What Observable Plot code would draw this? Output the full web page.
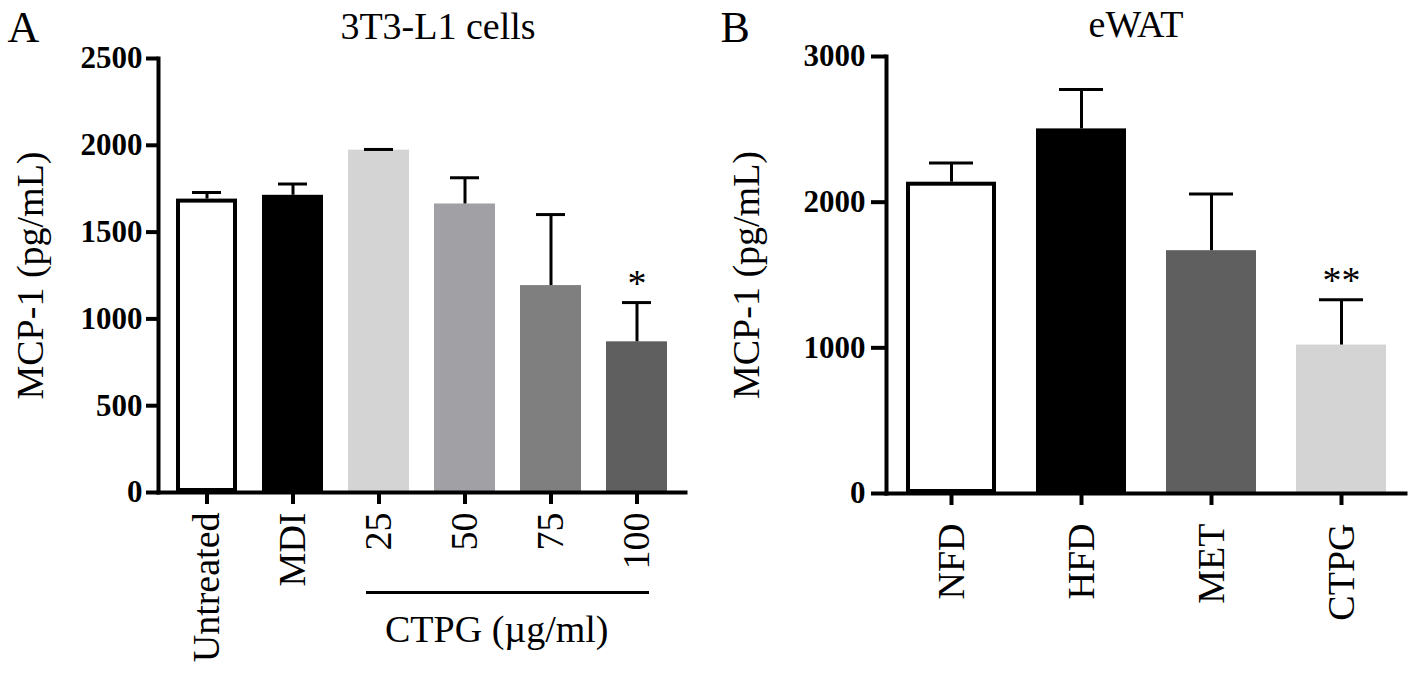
<!DOCTYPE html>
<html><head><meta charset="utf-8">
<script src="https://cdn.jsdelivr.net/npm/d3@7"></script>
<script src="https://cdn.jsdelivr.net/npm/@observablehq/plot@0.6"></script>
<style>
html,body{margin:0;padding:0;background:#fff;}
#wrap{position:relative;width:1415px;height:678px;overflow:hidden;background:#fff;}
#a{position:absolute;left:0;top:0;}
#b{position:absolute;left:700px;top:0;}
</style></head><body>
<div id="wrap"><div id="a"></div><div id="b"></div></div>
<script>
// ---- Panel A data: 3T3-L1 cells ----
const groupsA = ["Untreated", "MDI", "25", "50", "75", "100"];
const meansA  = [1690, 1712, 1972, 1662, 1192, 868];
const errsA   = [38, 65, 4, 151, 409, 226];
const starsA  = ["", "", "", "", "", "*"];
const fillsA  = ["#ffffff", "#000000", "#d4d4d4", "#a0a0a5", "#7f7f7f", "#5f5f5f"];
const outlinedA = ["Untreated"];
const yTicksA = [0, 500, 1000, 1500, 2000, 2500];
const bracketA = [{label: "CTPG (µg/ml)", from: "25", to: "100"}];

// ---- Panel B data: eWAT ----
const groupsB = ["NFD", "HFD", "MET", "CTPG"];
const meansB  = [2137, 2503, 1667, 1019];
const errsB   = [132, 270, 389, 311];
const starsB  = ["", "", "", "**"];
const fillsB  = ["#ffffff", "#000000", "#5f5f5f", "#d4d4d4"];
const outlinedB = ["NFD"];
const yTicksB = [0, 1000, 2000, 3000];

const yLabel = "MCP-1 (pg/mL)";
const serif = "'Liberation Serif', 'Times New Roman', serif";

function panel(cfg) {
  const rows = cfg.groups.map((g, i) => ({group: g, mean: cfg.means[i], err: cfg.errs[i], star: cfg.stars[i]}));
  const marks = [
    Plot.barY(rows, {x: "group", y: "mean", fill: "group"}),
    Plot.barY(rows.filter(d => cfg.outlined.includes(d.group)), {x: "group", y: "mean", fill: "none", stroke: "black", strokeWidth: 4, inset: 2}),
    Plot.ruleX(rows, {x: "group", y1: "mean", y2: d => d.mean + d.err, stroke: "black", strokeWidth: 3}),
    Plot.tickY(rows, {x: "group", y: d => d.mean + d.err, stroke: "black", strokeWidth: 3, insetLeft: cfg.capInset, insetRight: cfg.capInset}),
    Plot.text(rows, {x: "group", y: d => d.mean + d.err, text: "star", lineAnchor: "bottom", dy: -7, fontSize: 38}),
    Plot.frame({anchor: "left", strokeWidth: 4}),
    Plot.frame({anchor: "bottom", strokeWidth: 4}),
    Plot.axisY({ticks: cfg.yTicks, tickFormat: "d", tickSize: cfg.ytickSize, tickPadding: cfg.ytickPadding, fontSize: 31, fontWeight: "bold", strokeWidth: 4, label: null}),
    Plot.axisX({tickSize: 12, tickPadding: cfg.xtickPadding, tickRotate: -90, fontSize: 38, strokeWidth: 4, label: null}),
    Plot.text([yLabel], {frameAnchor: "left", rotate: -90, textAnchor: "middle", lineAnchor: "bottom", dx: cfg.ylabelDx, fontSize: 38}),
    Plot.text([cfg.title], {frameAnchor: "top", textAnchor: "middle", lineAnchor: "bottom", dy: -20, dx: cfg.titleDx, fontSize: 38}),
    Plot.text([cfg.letter], {frameAnchor: "top-left", textAnchor: "start", lineAnchor: "bottom", dy: cfg.letterDy, dx: cfg.letterDx, fontSize: 44})
  ];
  if (cfg.bracket) {
    marks.push(
      Plot.ruleY(cfg.bracket, {y: () => 0, x1: "from", x2: "to", dy: 100, stroke: "black", strokeWidth: 3, insetLeft: 18, insetRight: 18}),
      Plot.text(cfg.bracket, {x: "from", y: () => 0, text: "label", textAnchor: "start", lineAnchor: "middle", dx: 6, dy: 137, fontSize: 38})
    );
  }
  return Plot.plot({
    width: cfg.width, height: 678,
    marginLeft: cfg.marginLeft, marginRight: cfg.marginRight, marginTop: cfg.marginTop, marginBottom: cfg.marginBottom,
    style: {fontFamily: serif, background: "white", color: "black", overflow: "visible"},
    x: {domain: cfg.groups, paddingInner: cfg.paddingInner, paddingOuter: cfg.paddingOuter, label: null},
    y: {domain: [0, cfg.yMax], label: null},
    color: {domain: cfg.groups, range: cfg.fills},
    marks
  });
}

document.getElementById("a").append(panel({
  groups: groupsA, means: meansA, errs: errsA, stars: starsA, fills: fillsA, outlined: outlinedA,
  yTicks: yTicksA, yMax: 2500, bracket: bracketA, title: "3T3-L1 cells", letter: "A",
  width: 700, marginLeft: 158, marginRight: 15, marginTop: 58, marginBottom: 186,
  paddingInner: 0.285, paddingOuter: 0.185, capInset: 16,
  ytickSize: 12, ytickPadding: 4, xtickPadding: 8,
  ylabelDx: -116, titleDx: 16, letterDx: -151, letterDy: -17
}));

document.getElementById("b").append(panel({
  groups: groupsB, means: meansB, errs: errsB, stars: starsB, fills: fillsB, outlined: outlinedB,
  yTicks: yTicksB, yMax: 3000, bracket: null, title: "eWAT", letter: "B",
  width: 715, marginLeft: 186, marginRight: 10, marginTop: 56, marginBottom: 185,
  paddingInner: 0.31, paddingOuter: 0.145, capInset: 23,
  ytickSize: 15, ytickPadding: 6, xtickPadding: 18,
  ylabelDx: -128, titleDx: -10, letterDx: -166, letterDy: -15
}));
</script>
</body></html>
